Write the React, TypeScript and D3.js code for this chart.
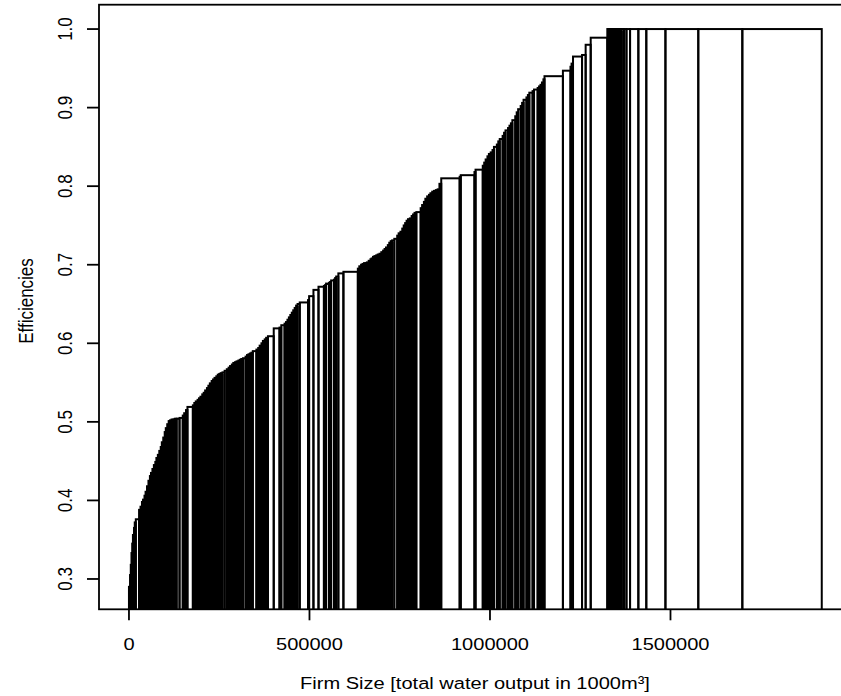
import React from 'react';
import * as d3 from 'd3';

// Firm sizes (in thousands of 1000 m³ of water output), ordered by efficiency
const firmSizeK = [
  3, 2, 2, 2, 2, 3, 2, 3, 9,
  4, 4, 3, 4, 3, 4, 4, 4, 3, 4, 4,
  4, 3, 4, 4, 4, 3, 4, 4, 3, 4, 4,
  4, 4, 5, 4, 5, 8, 9, 4, 5, 4, 15,
  4, 4, 5, 4, 4, 5, 4, 4, 5, 4, 4, 5, 4, 4, 5, 4, 4, 4, 5,
  6, 6, 5, 4, 5, 4, 5, 4, 5, 4, 4, 5, 7,
  4, 4, 4, 4, 4, 10, 5, 4, 5, 4, 5, 4, 5,
  16, 16, 5, 9, 4, 4, 4, 4, 4, 4, 4, 4, 4, 6, 23,
  3, 12, 14, 15, 3, 3, 8, 3, 3, 8, 3, 3, 6, 14, 40,
  4, 5, 4, 4, 4, 4, 5, 5, 3, 4, 4, 5, 4, 5, 5, 5, 4, 4, 5, 4,
  4, 4, 6, 8, 4, 5, 5, 4, 4, 4, 4, 5, 5, 4, 4, 5, 12,
  4, 5, 4, 5, 5, 4, 5, 5, 5, 5, 5, 5, 51, 3, 38, 3, 20, 4, 4, 5, 4, 5, 5,
  4, 8, 4, 4, 8, 4, 4, 7, 4, 4, 4, 8, 4, 4, 7, 4, 4, 8, 4, 4, 9, 4, 10, 4, 4, 4, 4, 3, 51,
  21, 3, 4, 25, 10, 14, 46,
  3, 3, 3, 3, 2, 3, 3, 3, 3, 3, 2, 3, 3, 3, 6, 7, 10, 23, 22, 53, 91, 122, 220,
];

// Efficiency score of each firm (same order)
const efficiency = [
  0.290, 0.305, 0.318, 0.333, 0.345, 0.356, 0.365, 0.372, 0.376,
  0.388, 0.392, 0.398, 0.401, 0.406, 0.411, 0.418, 0.425, 0.431, 0.435, 0.440,
  0.445, 0.449, 0.454, 0.458, 0.463, 0.468, 0.474, 0.480, 0.487, 0.492, 0.497,
  0.501, 0.502, 0.503, 0.503, 0.504, 0.504, 0.505, 0.508, 0.511, 0.515, 0.519,
  0.521, 0.524, 0.526, 0.528, 0.530, 0.532, 0.535, 0.537, 0.540, 0.543, 0.546, 0.549, 0.552, 0.554, 0.556, 0.558, 0.560, 0.561, 0.562,
  0.563, 0.565, 0.567, 0.569, 0.571, 0.573, 0.575, 0.576, 0.577, 0.578, 0.579, 0.580, 0.581,
  0.583, 0.585, 0.586, 0.587, 0.588, 0.590, 0.592, 0.594, 0.597, 0.600, 0.603, 0.605, 0.607,
  0.609, 0.619, 0.620, 0.623, 0.625, 0.627, 0.630, 0.633, 0.636, 0.639, 0.642, 0.645, 0.648, 0.650, 0.652,
  0.655, 0.660, 0.668, 0.672, 0.673, 0.674, 0.676, 0.677, 0.678, 0.680, 0.681, 0.683, 0.685, 0.689, 0.691,
  0.695, 0.698, 0.700, 0.701, 0.702, 0.702, 0.703, 0.705, 0.707, 0.708, 0.710, 0.711, 0.712, 0.713, 0.714, 0.716, 0.718, 0.720, 0.722, 0.725,
  0.728, 0.730, 0.731, 0.733, 0.737, 0.740, 0.742, 0.746, 0.750, 0.753, 0.756, 0.758, 0.759, 0.762, 0.764, 0.766, 0.767,
  0.772, 0.776, 0.780, 0.784, 0.787, 0.789, 0.791, 0.793, 0.794, 0.795, 0.796, 0.803, 0.810, 0.812, 0.814, 0.818, 0.821, 0.826, 0.830, 0.834, 0.838, 0.841, 0.843,
  0.846, 0.850, 0.853, 0.857, 0.860, 0.864, 0.868, 0.871, 0.874, 0.877, 0.880, 0.884, 0.889, 0.894, 0.898, 0.902, 0.906, 0.910, 0.913, 0.916, 0.919, 0.921, 0.923, 0.925, 0.927, 0.929, 0.932, 0.936, 0.940,
  0.947, 0.952, 0.956, 0.965, 0.967, 0.980, 0.989,
  1, 1, 1, 1, 1, 1, 1, 1, 1, 1, 1, 1, 1, 1, 1, 1, 1, 1, 1, 1, 1, 1, 1,
];

const xTicks = [0, 500000, 1000000, 1500000];
const xTickLabels = ['0', '500000', '1000000', '1500000'];
const yTicks = [0.3, 0.4, 0.5, 0.6, 0.7, 0.8, 0.9, 1.0];
const yTickLabels = ['0.3', '0.4', '0.5', '0.6', '0.7', '0.8', '0.9', '1.0'];
const xTitle = 'Firm Size [total water output in 1000m³]';
const yTitle = 'Efficiencies';

export default function App() {
  const W = 841;
  const H = 696;
  const plot = { left: 99, right: 851, top: 4.7, bottom: 609.3 };
  const x = d3.scaleLinear().domain([-83000, 2000000]).range([plot.left, plot.right]);
  const y = d3.scaleLinear().domain([0.2614, 1.031]).range([plot.bottom, plot.top]);

  let cum = 0;
  const bars = firmSizeK.map((s, i) => {
    const x0 = cum;
    cum += s * 1000;
    return { x0, x1: cum, e: efficiency[i] };
  });

  const font = "'Liberation Sans', Arial, Helvetica, sans-serif";
  const fs = 17;
  const sx = 1.18; // horizontal stretch of the rendered text
  const tick = 12;

  return (
    <svg width={W} height={H} style={{ position: 'absolute', left: 0, top: 0, background: '#fff' }}>
      <defs>
        <clipPath id="plotclip">
          <rect x={plot.left} y={plot.top} width={plot.right - plot.left} height={plot.bottom - plot.top} />
        </clipPath>
      </defs>
      <rect x={0} y={0} width={W} height={H} fill="#fff" />
      <g clipPath="url(#plotclip)">
        {bars.map((b, i) => (
          <rect
            key={i}
            x={x(b.x0)}
            y={y(b.e)}
            width={x(b.x1) - x(b.x0)}
            height={y(0) - y(b.e)}
            fill="none"
            stroke="#000"
            strokeWidth={2}
          />
        ))}
      </g>
      <rect x={plot.left} y={plot.top} width={plot.right - plot.left} height={plot.bottom - plot.top}
        fill="none" stroke="#000" strokeWidth={1.8} />
      {xTicks.map((t, i) => (
        <g key={'xt' + i}>
          <line x1={x(t)} x2={x(t)} y1={plot.bottom} y2={plot.bottom + tick - 1} stroke="#000" strokeWidth={1.8} />
          <text transform={`translate(${x(t)},650) scale(${sx},1)`} textAnchor="middle" fontFamily={font} fontSize={fs} fill="#000">{xTickLabels[i]}</text>
        </g>
      ))}
      {yTicks.map((t, i) => (
        <g key={'yt' + i}>
          <line x1={plot.left - tick} x2={plot.left} y1={y(t)} y2={y(t)} stroke="#000" strokeWidth={1.8} />
          <text transform={`translate(72,${y(t)}) rotate(-90) scale(1,${sx})`} textAnchor="middle" fontFamily={font} fontSize={fs} fill="#000">{yTickLabels[i]}</text>
        </g>
      ))}
      <text transform={`translate(${(plot.left + plot.right) / 2},689) scale(${sx},1)`} textAnchor="middle" fontFamily={font} fontSize={fs} fill="#000">{xTitle}</text>
      <text transform={`translate(33,301) rotate(-90) scale(1,${sx})`} textAnchor="middle" fontFamily={font} fontSize={fs} fill="#000">{yTitle}</text>
    </svg>
  );
}
